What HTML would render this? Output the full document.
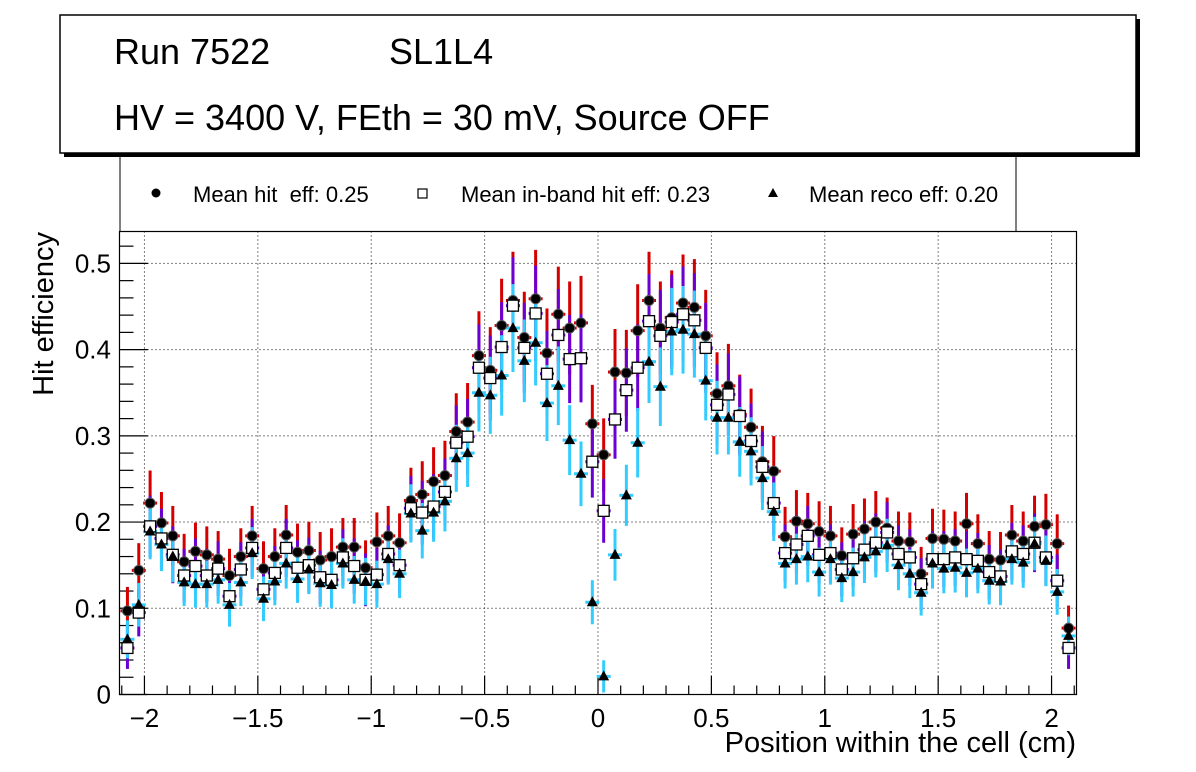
<!DOCTYPE html>
<html><head><meta charset="utf-8"><style>
body{margin:0;background:#fff;}
svg{display:block;font-family:"Liberation Sans",Arial,sans-serif;}
</style></head><body>
<svg id="c" width="1196" height="772" viewBox="0 0 1196 772" xmlns="http://www.w3.org/2000/svg">
<rect x="64" y="19" width="1076" height="138" fill="#000"/>
<rect x="60" y="15" width="1076" height="138" fill="#fff" stroke="#000" stroke-width="1.5"/>
<text x="114" y="64" font-size="36">Run 7522</text>
<text x="389" y="64" font-size="36">SL1L4</text>
<text x="114" y="130" font-size="36">HV = 3400 V, FEth = 30 mV, Source OFF</text>
<g>
<line x1="120" y1="157" x2="120" y2="232" stroke="#000"/>
<line x1="1016" y1="157" x2="1016" y2="232" stroke="#000"/>
<circle cx="156" cy="193" r="4.5" fill="#000"/>
<text x="193" y="202" font-size="22">Mean hit&#160; eff: 0.25</text>
<rect x="418" y="189" width="9" height="9" fill="#fff" stroke="#000" stroke-width="1.2"/>
<text x="461" y="202" font-size="22">Mean in-band hit eff: 0.23</text>
<polygon points="773,188 768,197 778,197" fill="#000"/>
<text x="809" y="202" font-size="22">Mean reco eff: 0.20</text>
</g>
<g id="grid"></g><g id="axes"></g><g id="marks"></g>
<rect x="119.5" y="231.5" width="957" height="463" fill="none" stroke="#000" stroke-width="1.2"/>
<text x="1076" y="752" font-size="29" text-anchor="end">Position within the cell (cm)</text>
<text transform="translate(53,232) rotate(-90)" font-size="29" text-anchor="end">Hit efficiency</text>
</svg>
<script>
const hitEff=[0.097,0.144,0.222,0.199,0.184,0.154,0.166,0.162,0.157,0.138,0.160,0.184,0.146,0.160,0.185,0.165,0.167,0.156,0.160,0.171,0.171,0.147,0.177,0.184,0.176,0.225,0.232,0.247,0.254,0.305,0.316,0.393,0.376,0.428,0.457,0.414,0.459,0.396,0.441,0.425,0.431,0.314,0.278,0.374,0.373,0.422,0.457,0.425,0.437,0.454,0.449,0.416,0.349,0.358,0.325,0.310,0.270,0.259,0.183,0.201,0.198,0.189,0.184,0.161,0.186,0.192,0.200,0.193,0.178,0.177,0.140,0.181,0.180,0.178,0.198,0.175,0.157,0.156,0.185,0.178,0.195,0.197,0.175,0.077];
const inbandEff=[0.054,0.095,0.195,0.181,0.162,0.138,0.149,0.138,0.146,0.114,0.145,0.170,0.122,0.141,0.170,0.147,0.150,0.136,0.133,0.159,0.149,0.133,0.139,0.163,0.150,0.216,0.211,0.218,0.235,0.292,0.299,0.379,0.367,0.403,0.451,0.402,0.442,0.372,0.417,0.389,0.390,0.270,0.213,0.319,0.353,0.379,0.433,0.416,0.432,0.441,0.434,0.402,0.336,0.348,0.323,0.294,0.264,0.222,0.164,0.174,0.184,0.162,0.164,0.145,0.158,0.168,0.176,0.188,0.163,0.159,0.128,0.157,0.157,0.159,0.157,0.155,0.142,0.137,0.166,0.163,0.176,0.159,0.132,0.054];
const recoEff=[0.064,0.104,0.189,0.174,0.160,0.130,0.128,0.128,0.133,0.104,0.130,0.164,0.111,0.131,0.152,0.134,0.145,0.129,0.127,0.152,0.133,0.131,0.128,0.157,0.140,0.210,0.190,0.211,0.224,0.274,0.280,0.350,0.347,0.370,0.425,0.387,0.408,0.338,0.358,0.295,0.256,0.107,0.021,0.162,0.231,0.292,0.386,0.357,0.421,0.423,0.418,0.364,0.321,0.321,0.293,0.282,0.251,0.212,0.152,0.157,0.160,0.142,0.157,0.135,0.142,0.159,0.166,0.173,0.150,0.140,0.118,0.152,0.146,0.147,0.141,0.146,0.132,0.131,0.157,0.153,0.175,0.155,0.119,0.068];
const xStart=-2.075, binWidth=0.05;
const xTicks=[-2,-1.5,-1,-0.5,0,0.5,1,1.5,2];
const xTickLabels=["\u22122","\u22121.5","\u22121","\u22120.5","0","0.5","1","1.5","2"];
const yTicks=[0,0.1,0.2,0.3,0.4,0.5];
const yTickLabels=["0","0.1","0.2","0.3","0.4","0.5"];

const X0=119.5,X1=1076.5,Y0=694.5,Y1=231.5,XMIN=-2.11,XMAX=2.11,YMIN=0,YMAX=0.537;
function xs(v){return X0+(v-XMIN)/(XMAX-XMIN)*(X1-X0);}
function ys(v){return Y0-(v-YMIN)/(YMAX-YMIN)*(Y0-Y1);}
const NS="http://www.w3.org/2000/svg";
function mk(tag,attrs,parent){const e=document.createElementNS(NS,tag);for(const k in attrs)e.setAttribute(k,attrs[k]);parent.appendChild(e);return e;}
const grid=document.getElementById('grid'),axes=document.getElementById('axes'),marks=document.getElementById('marks');
xTicks.forEach((t,i)=>{
  const l=mk('line',{x1:xs(t),x2:xs(t),y1:Y1,y2:Y0,stroke:'#000','stroke-dasharray':'1,3'},grid);
  
  
  const tk=mk('line',{x1:xs(t),x2:xs(t),y1:Y0,y2:Y0-19,stroke:'#000','stroke-width':1.2},axes);
  
  
  const tx=mk('text',{x:xs(t),y:727,'font-size':26,'text-anchor':'middle'},axes);
  tx.textContent=xTickLabels[i];
  
  
});
for(let v=-2.1;v<=2.1001;v+=0.1){
  if(Math.abs(Math.round(v*2)-v*2)<1e-6)continue;
  const m=mk('line',{x1:xs(v),x2:xs(v),y1:Y0,y2:Y0-9,stroke:'#000','stroke-width':1.2},axes);
  
  
}
yTicks.forEach((t,i)=>{
  if(t>0){
    const l=mk('line',{x1:X0,x2:X1,y1:ys(t),y2:ys(t),stroke:'#000','stroke-dasharray':'1,3'},grid);
    
    
  }
  const tk=mk('line',{x1:X0,x2:X0+28,y1:ys(t),y2:ys(t),stroke:'#000','stroke-width':1.2},axes);
  
  
  const tx=mk('text',{x:111,y:ys(t)+9,'font-size':26,'text-anchor':'end'},axes);
  tx.textContent=yTickLabels[i];
  
  
});
for(let v=0.02;v<0.537;v+=0.02){
  if(Math.abs(Math.round(v*10)-v*10)<1e-6)continue;
  const m=mk('line',{x1:X0,x2:X0+14,y1:ys(v),y2:ys(v),stroke:'#000','stroke-width':1.2},axes);
  
  
}
function errbars(vals,color,base,slope,name){
  vals.forEach((v,i)=>{
    const x=xs(xStart+i*binWidth),e=base+slope*v;
    const l=mk('line',{x1:x,x2:x,y1:ys(v-e),y2:ys(Math.min(v+e,YMAX)),stroke:color,'stroke-width':3},marks);
    
    
    const h=mk('line',{x1:x-7,x2:x+7,y1:ys(v),y2:ys(v),stroke:color,'stroke-width':3},marks);
    
    
  });
}
errbars(hitEff,'#d40000',0.02,0.08,'hit');
errbars(inbandEff,'#6a00d4',0.02,0.08,'inband');
errbars(recoEff,'#33ccff',0.017,0.08,'reco');
hitEff.forEach((v,i)=>{
  const c=mk('circle',{cx:xs(xStart+i*binWidth),cy:ys(v),r:5,fill:'#000',stroke:'#555','stroke-width':1},marks);
  
  
});
inbandEff.forEach((v,i)=>{
  const x=xs(xStart+i*binWidth),y=ys(v);
  const r=mk('rect',{x:x-5.5,y:y-5.5,width:11,height:11,fill:'#fff',stroke:'#000','stroke-width':1.3},marks);
  
  
});
recoEff.forEach((v,i)=>{
  const x=xs(xStart+i*binWidth),y=ys(v);
  const p=mk('polygon',{points:`${x},${y-6} ${x-5.5},${y+4} ${x+5.5},${y+4}`,fill:'#000'},marks);
  
  
});
</script>
</body></html>
